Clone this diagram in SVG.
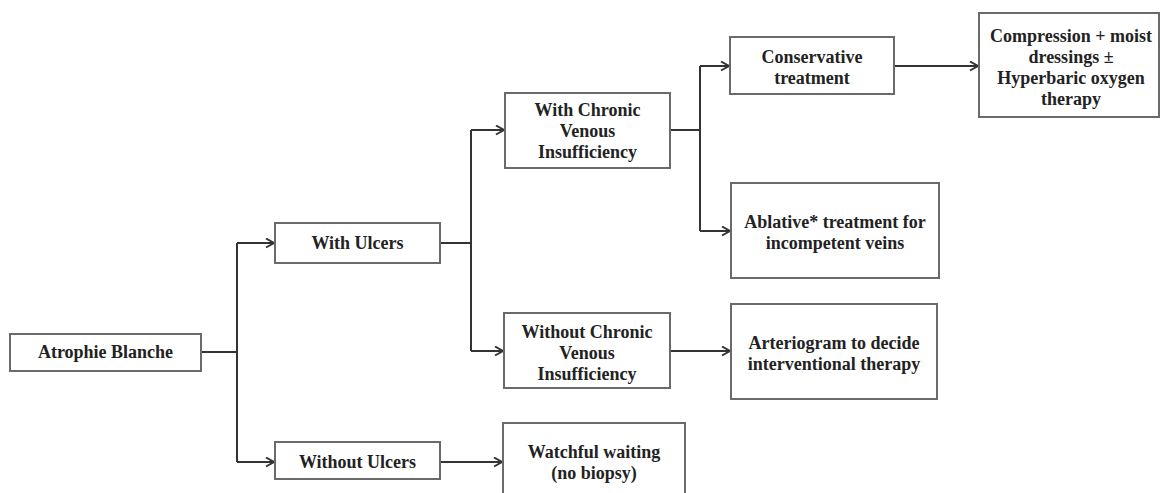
<svg xmlns="http://www.w3.org/2000/svg" width="1161" height="493" viewBox="0 0 1161 493">
<style>
.box{fill:#fff;stroke:#6a6a6a;stroke-width:2}
.t{font-family:"Liberation Serif","Times New Roman",serif;font-weight:bold;font-size:18px;fill:#222;text-anchor:middle}
.c{fill:none;stroke:#333;stroke-width:2}
.a{fill:none;stroke:#333;stroke-width:2;marker-end:url(#arr)}
</style>
<defs>
<marker id="arr" markerWidth="12" markerHeight="12" refX="9" refY="5" orient="auto" markerUnits="userSpaceOnUse">
<path d="M1,0.5 L9,5 L1,9.5" fill="none" stroke="#333" stroke-width="2"/>
</marker>
</defs>
<rect width="1161" height="493" fill="#fff"/>
<g id="connectors">
<path class="c" d="M201,352 H237 M237,243 V462"/>
<path class="a" d="M237,243 H274"/>
<path class="a" d="M237,462 H274"/>
<path class="c" d="M440,243 H471 M471,130 V351"/>
<path class="a" d="M471,130 H504"/>
<path class="a" d="M471,351 H503"/>
<path class="a" d="M440,462 H502"/>
<path class="c" d="M670,130 H700 M700,66 V231"/>
<path class="a" d="M700,66 H729"/>
<path class="a" d="M700,231 H730"/>
<path class="a" d="M894,66 H978"/>
<path class="a" d="M670,351 H730"/>
</g>
<g id="atrophie">
<rect class="box" x="10" y="334" width="191" height="37"/>
<text class="t" x="105.5" y="358">Atrophie Blanche</text>
</g>
<g id="with-ulcers">
<rect class="box" x="275" y="223" width="165" height="40"/>
<text class="t" x="357.5" y="249">With Ulcers</text>
</g>
<g id="without-ulcers">
<rect class="box" x="275" y="442" width="165" height="37"/>
<text class="t" x="357.5" y="468">Without Ulcers</text>
</g>
<g id="with-cvi">
<rect class="box" x="505" y="93" width="165" height="75"/>
<text class="t" x="587.5" y="116">With Chronic</text>
<text class="t" x="587.5" y="137">Venous</text>
<text class="t" x="587.5" y="158">Insufficiency</text>
</g>
<g id="without-cvi">
<rect class="box" x="504" y="313" width="166" height="75"/>
<text class="t" x="587" y="338">Without Chronic</text>
<text class="t" x="587" y="359">Venous</text>
<text class="t" x="587" y="380">Insufficiency</text>
</g>
<g id="watchful">
<rect class="box" x="503" y="423" width="182" height="80"/>
<text class="t" x="594" y="458">Watchful waiting</text>
<text class="t" x="594" y="479">(no biopsy)</text>
</g>
<g id="conservative">
<rect class="box" x="730" y="37" width="164" height="57"/>
<text class="t" x="812" y="63">Conservative</text>
<text class="t" x="812" y="84">treatment</text>
</g>
<g id="ablative">
<rect class="box" x="731" y="183" width="208" height="95"/>
<text class="t" x="835" y="228">Ablative* treatment for</text>
<text class="t" x="835" y="249">incompetent veins</text>
</g>
<g id="arteriogram">
<rect class="box" x="731" y="304" width="206" height="95"/>
<text class="t" x="834" y="349">Arteriogram to decide</text>
<text class="t" x="834" y="370">interventional therapy</text>
</g>
<g id="compression">
<rect class="box" x="979" y="13" width="180" height="104"/>
<text class="t" x="1071" y="42">Compression + moist</text>
<text class="t" x="1071" y="63">dressings ±</text>
<text class="t" x="1071" y="84">Hyperbaric oxygen</text>
<text class="t" x="1071" y="105">therapy</text>
</g>
</svg>
